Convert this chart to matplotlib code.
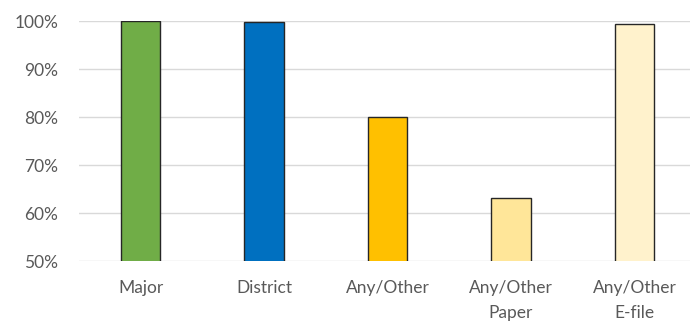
import matplotlib.pyplot as plt
from matplotlib.ticker import PercentFormatter

categories = ['Major', 'District', 'Any/Other', 'Any/Other\nPaper', 'Any/Other\nE-file']
rates = [100.0, 99.7, 80.0, 63.1, 99.4]
colors = ['#70AD47', '#0070C0', '#FFC000', '#FFE699', '#FFF2CC']
yticks = [50, 60, 70, 80, 90, 100]

plt.rcParams['font.family'] = ['Lato', 'DejaVu Sans']

fig = plt.figure(figsize=(6.9, 3.24), dpi=100)
ax = fig.add_axes([79 / 690, 1 - 261 / 324, 611 / 690, 240 / 324])

x = range(len(categories))
ax.bar(x, rates, width=0.32, color=colors, edgecolor='#262626', linewidth=1.0, zorder=3)

ax.set_ylim(50, 100)
ax.set_xlim(-0.5, 4.45)
ax.set_yticks(yticks)
ax.yaxis.set_major_formatter(PercentFormatter(decimals=0))
ax.set_xticks(list(x))
ax.set_xticklabels(categories, linespacing=1.65)

ax.grid(axis='y', color='#D9D9D9', linewidth=1.0, zorder=0)
for s in ax.spines.values():
    s.set_visible(False)
ax.tick_params(axis='both', length=0, labelsize=12.5, colors='#595959')
ax.tick_params(axis='y', pad=15)
ax.tick_params(axis='x', pad=14)

fig.savefig('out.png', dpi=100)
